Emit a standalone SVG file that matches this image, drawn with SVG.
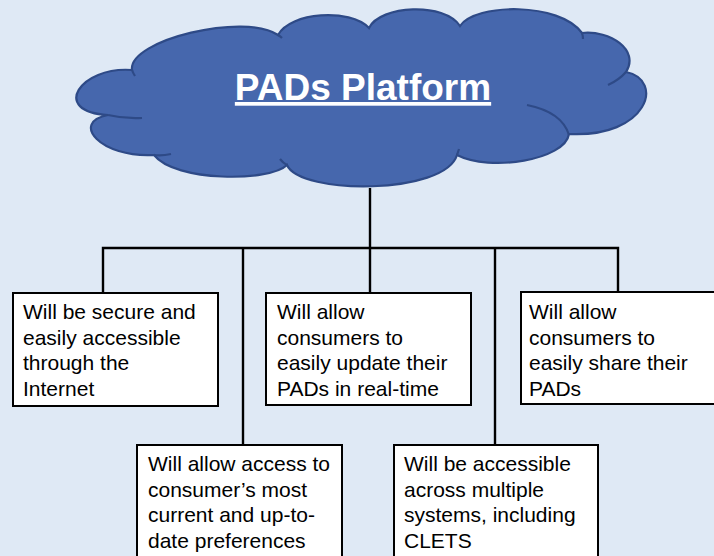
<svg xmlns="http://www.w3.org/2000/svg" width="714" height="556" viewBox="0 0 714 556">
<style>
.box{fill:#ffffff;stroke:#000000;stroke-width:2}
.conn{fill:none;stroke:#000000;stroke-width:2.4}
.cloud{fill:#4667AD;stroke:#2E4A87;stroke-width:2.2}
.inner{fill:none;stroke:#2E4A87;stroke-width:2.2}
.t{font-family:"Liberation Sans",Arial,sans-serif;font-size:21px;fill:#000000}
.title{font-family:"Liberation Sans",Arial,sans-serif;font-size:37px;font-weight:bold;fill:#ffffff;text-decoration:underline}
</style>
<rect x="0" y="0" width="714" height="556" fill="#DFE9F5"/>
<g id="connectors">
<path class="conn" d="M370,188 V293"/>
<path class="conn" d="M103,293 V248 H618 V292"/>
<path class="conn" d="M243,248 V445"/>
<path class="conn" d="M495,248 V445"/>
</g>
<g id="cloud">
<path class="cloud" d="M132,70 C128,40 245,12 278,35 C290,12 350,8 369,28 C380,5 445,2 460,26 C475,3 560,2 582,33 C610,30 640,50 626,72 C665,80 648,138 569,134 C565,160 490,172 457,155 C445,195 300,195 287,165 C270,182 175,182 154,155 C100,158 70,122 108,115 C50,112 80,66 132,70 Z"/>
<path class="inner" d="M108,115 Q125,119 142,118"/>
<path class="inner" d="M154,155 Q162,156 171,154"/>
<path class="inner" d="M287,165 Q283,163 280,159"/>
<path class="inner" d="M457,155 Q458,152 459,149"/>
<path class="inner" d="M527,105 Q562,112 569,135"/>
<path class="inner" d="M626,72 Q619,80 608,85"/>
<path class="inner" d="M582,33 Q583,36 583,39"/>
<path class="inner" d="M278,35 Q280,36 282,38"/>
<path class="inner" d="M132,70 Q133,73 135,76"/>
<text class="title" x="363" y="100" text-anchor="middle">PADs Platform</text>
</g>
<g id="box1">
<rect class="box" x="13" y="293" width="205" height="113"/>
<text class="t"><tspan x="23" y="319">Will be secure and</tspan><tspan x="23" y="344.5">easily accessible</tspan><tspan x="23" y="370">through the</tspan><tspan x="23" y="395.5">Internet</tspan></text>
</g>
<g id="box2">
<rect class="box" x="137" y="445" width="205" height="120"/>
<text class="t"><tspan x="148" y="471">Will allow access to</tspan><tspan x="148" y="496.7">consumer’s most</tspan><tspan x="148" y="522.4">current and up-to-</tspan><tspan x="148" y="548">date preferences</tspan></text>
</g>
<g id="box3">
<rect class="box" x="266" y="293" width="205" height="112"/>
<text class="t"><tspan x="277" y="319">Will allow</tspan><tspan x="277" y="344.5">consumers to</tspan><tspan x="277" y="370">easily update their</tspan><tspan x="277" y="395.5">PADs in real-time</tspan></text>
</g>
<g id="box4">
<rect class="box" x="394" y="445" width="204" height="120"/>
<text class="t"><tspan x="404" y="471">Will be accessible</tspan><tspan x="404" y="496.7">across multiple</tspan><tspan x="404" y="522.4">systems, including</tspan><tspan x="404" y="548">CLETS</tspan></text>
</g>
<g id="box5">
<rect class="box" x="521" y="292" width="205" height="112"/>
<text class="t"><tspan x="529" y="319">Will allow</tspan><tspan x="529" y="344.5">consumers to</tspan><tspan x="529" y="370">easily share their</tspan><tspan x="529" y="395.5">PADs</tspan></text>
</g>
</svg>
